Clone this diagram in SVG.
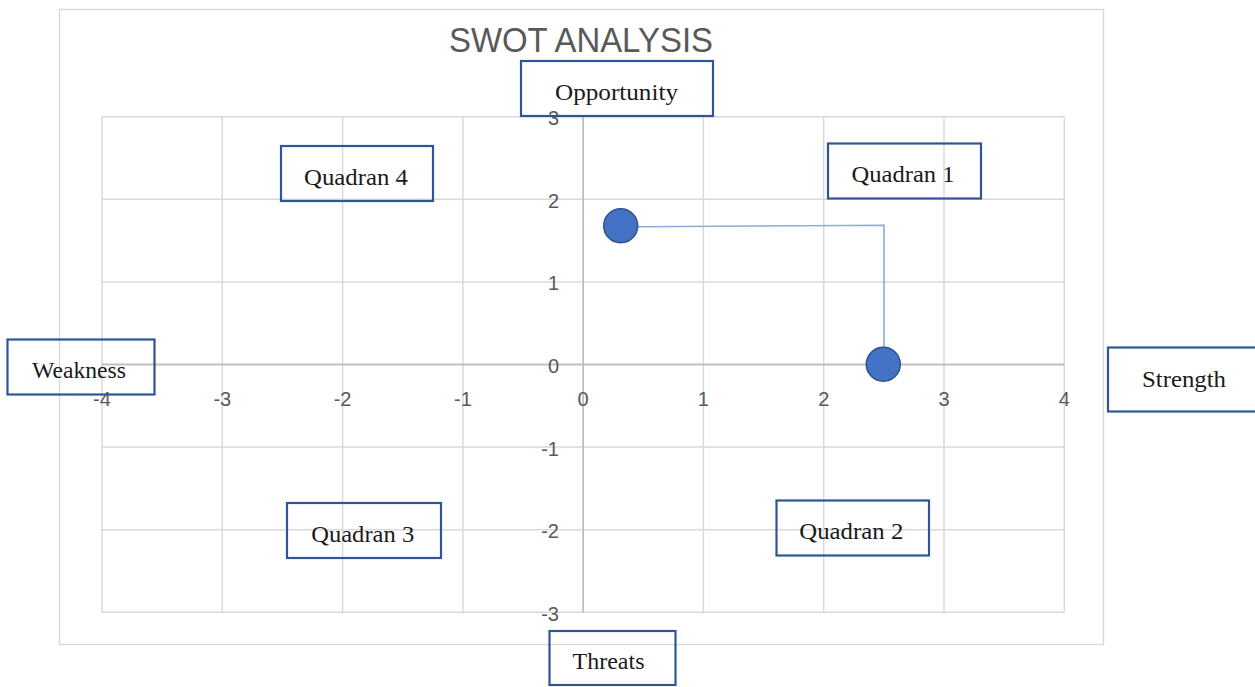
<svg xmlns="http://www.w3.org/2000/svg" width="1255" height="687" viewBox="0 0 1255 687">
<style>
.grid{stroke:#d9d9d9;stroke-width:1.5;fill:none}
.axis{stroke:#bfbfbf;stroke-width:1.8;fill:none}
.tick{font-family:"Liberation Sans",Arial,sans-serif;font-size:20px;fill:#595959}
.box{fill:none;stroke:#2f5597;stroke-width:2.2}
.lbl{font-family:"Liberation Serif","Times New Roman",serif;font-size:24px;fill:#1a1a1a;text-anchor:middle}
.pt{fill:#4472c4;stroke:#2f528f;stroke-width:1.5}
</style>
<rect width="1255" height="687" fill="#ffffff"/>
<rect x="59.5" y="9.5" width="1044" height="635" fill="none" stroke="#d9d9d9" stroke-width="1.4"/>
<text x="581" y="51.5" font-family="'Liberation Sans',Arial,sans-serif" font-size="35" fill="#595959" text-anchor="middle" textLength="264" lengthAdjust="spacingAndGlyphs">SWOT ANALYSIS</text>
<g id="grid">
<path class="grid" d="M102,116.7V612.3M222.3,116.7V612.3M342.6,116.7V612.3M462.9,116.7V612.3M703.4,116.7V612.3M823.7,116.7V612.3M944,116.7V612.3M1064.3,116.7V612.3"/>
<path class="grid" d="M102,116.7H1064.3M102,199.3H1064.3M102,281.9H1064.3M102,447.1H1064.3M102,529.7H1064.3M102,612.3H1064.3"/>
<path class="axis" d="M583.1,116.7V612.3M102,364.5H1064.3"/>
</g>
<g id="xticks" class="tick" text-anchor="middle">
<text x="102" y="406">-4</text>
<text x="222.3" y="406">-3</text>
<text x="342.6" y="406">-2</text>
<text x="462.9" y="406">-1</text>
<text x="583.1" y="406">0</text>
<text x="703.4" y="406">1</text>
<text x="823.7" y="406">2</text>
<text x="944" y="406">3</text>
<text x="1064.3" y="406">4</text>
</g>
<g id="yticks" class="tick" text-anchor="end">
<text x="559" y="125">3</text>
<text x="559" y="207.8">2</text>
<text x="559" y="290.4">1</text>
<text x="559" y="373">0</text>
<text x="559" y="455.6">-1</text>
<text x="559" y="538.2">-2</text>
<text x="559" y="620.8">-3</text>
</g>
<g id="connectors">
<path d="M638,226.7L884,225.3V348" fill="none" stroke="#8faadc" stroke-width="1.6"/>
</g>
<g id="point-1"><circle class="pt" cx="620.7" cy="225.7" r="17"/></g>
<g id="point-2"><circle class="pt" cx="883.3" cy="364.3" r="17"/></g>
<g id="opportunity"><rect class="box" x="521" y="61" width="192" height="55"/><text class="lbl" x="616.5" y="100" textLength="123" lengthAdjust="spacingAndGlyphs">Opportunity</text></g>
<g id="quadran-4"><rect class="box" x="281" y="146" width="152" height="55"/><text class="lbl" x="356" y="185" textLength="104" lengthAdjust="spacingAndGlyphs">Quadran 4</text></g>
<g id="quadran-1"><rect class="box" x="828" y="143.5" width="153" height="55"/><text class="lbl" x="903" y="182" textLength="103" lengthAdjust="spacingAndGlyphs">Quadran 1</text></g>
<g id="weakness"><rect class="box" x="7.5" y="339.5" width="147" height="55"/><text class="lbl" x="79" y="378.3" textLength="94" lengthAdjust="spacingAndGlyphs">Weakness</text></g>
<g id="strength"><rect class="box" x="1108" y="347.5" width="150" height="64"/><text class="lbl" x="1184" y="386.7" textLength="84" lengthAdjust="spacingAndGlyphs">Strength</text></g>
<g id="quadran-3"><rect class="box" x="287" y="503" width="154" height="55"/><text class="lbl" x="362.7" y="541.7" textLength="103" lengthAdjust="spacingAndGlyphs">Quadran 3</text></g>
<g id="quadran-2"><rect class="box" x="776.5" y="500.5" width="152.5" height="55"/><text class="lbl" x="851.3" y="539.3" textLength="104" lengthAdjust="spacingAndGlyphs">Quadran 2</text></g>
<g id="threats"><rect class="box" x="549.5" y="631" width="126" height="54"/><text class="lbl" x="608.5" y="669.3" textLength="72" lengthAdjust="spacingAndGlyphs">Threats</text></g>
</svg>
